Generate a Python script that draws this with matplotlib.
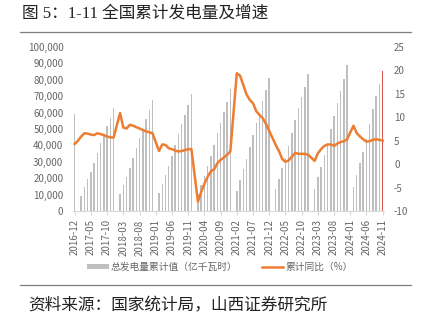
import numpy as np
import pandas as pd
import matplotlib
matplotlib.use("Agg")
import matplotlib.pyplot as plt
from matplotlib.patches import Patch
from matplotlib.lines import Line2D

plt.rcParams['font.family'] = ['Noto Sans CJK SC', 'DejaVu Sans']
plt.rcParams['axes.unicode_minus'] = False

# monthly data, 2016-12 .. 2024-11 (January has no separate release -> None)
months = pd.period_range("2016-12", "2024-11", freq="M").strftime("%Y-%m").tolist()

gen_cum = [  # 总发电量累计值（亿千瓦时）
    59100,
    None, 9300, 14600, 19300, 24000, 29300, 35400, 41500, 46300, 51800, 56900, 62600,
    None, 10400, 15600, 20800, 26300, 32300, 38400, 44500, 49900, 55900, 61600, 67900,
    None, 10900, 16700, 22000, 27500, 33500, 40100, 46800, 52900, 58500, 64400, 71300,
    None, 10200, 15800, 21300, 27300, 33500, 40500, 47400, 53600, 60400, 66600, 74200,
    None, 12400, 18900, 25400, 31700, 38800, 46300, 53500, 60000, 67100, 73800, 80900,
    None, 13200, 19500, 26000, 32500, 39800, 47800, 55500, 62600, 69700, 75800, 83600,
    None, 13300, 20500, 27000, 34000, 41000, 49800, 58100, 65600, 73400, 80500, 88800,
    None, 14400, 21900, 29100, 36200, 43700, 53000, 62200, 70300, 77600, 85400,
]

yoy = [  # 累计同比（%）
    4.3,
    5.0, 5.9, 6.6, 6.5, 6.3, 6.2, 6.6, 6.4, 6.2, 5.9, 5.7, 5.7,
    None, 10.9, 7.8, 7.6, 8.4, 8.2, 7.9, 7.6, 7.3, 7.0, 6.8, 6.6,
    None, 2.8, 4.2, 4.1, 3.4, 3.2, 2.9, 2.7, 2.8, 3.0, 3.2, 3.2,
    None, -8.0, -6.0, -4.2, -2.7, -1.5, -1.1, 0.2, 0.9, 1.4, 2.0, 2.7,
    None, 19.4, 18.9, 16.9, 14.9, 13.7, 13.0, 11.3, 10.5, 9.8, 8.6, 7.1,
    None, 4.1, 2.8, 1.1, 0.5, 0.8, 1.6, 2.4, 2.2, 2.2, 2.2, 2.0,
    None, 0.7, 2.3, 3.2, 3.9, 4.2, 4.2, 3.9, 4.4, 4.7, 4.9, 5.3,
    None, 8.2, 6.6, 5.9, 5.3, 4.8, 4.9, 5.2, 5.3, 5.2, 5.0,
]

x = np.arange(len(months))
gen = np.array([np.nan if v is None else v for v in gen_cum], dtype=float)
g = np.array([np.nan if v is None else v for v in yoy], dtype=float)

GRAY = "#666666"
BAR = "#BFBFBF"
ORANGE = "#ED7D31"
RED = "#D9534F"

fig = plt.figure(figsize=(4.23, 3.28), dpi=100)

fig.text(22 / 423, 1 - 14 / 328, "图 5：1-11 全国累计发电量及增速", fontsize=12,
         family=['Liberation Serif', 'Noto Sans CJK SC'], va="center", ha="left", color="#222222")
fig.add_artist(Line2D([20 / 423, 411 / 423], [1 - 32 / 328, 1 - 32 / 328],
                      color="#7F7F7F", lw=0.9))
fig.add_artist(Line2D([20 / 423, 411 / 423], [1 - 285 / 328, 1 - 285 / 328],
                      color="#7F7F7F", lw=0.9))
fig.text(28 / 423, 1 - 306 / 328, "资料来源：国家统计局，山西证券研究所", fontsize=12,
         va="center", ha="left", color="#222222")

ax = fig.add_axes([73.1 / 423, 117 / 328, 311.2 / 423, 164 / 328])
ok = ~np.isnan(gen)
colors = [RED if i == len(x) - 1 else BAR for i in x[ok]]
ax.bar(x[ok], gen[ok], width=0.45, color=colors, zorder=2)
ax.set_xlim(-0.5, len(x) - 0.5)
ax.set_ylim(0, 100000)
ax.set_yticks(np.arange(0, 100001, 10000))
ax.set_yticklabels([f"{v:,}" for v in range(0, 100001, 10000)])
ax.set_xticks(x[::5])
ax.set_xticklabels(months[::5], rotation=90)
ax.tick_params(axis="y", length=0, pad=7, labelsize=7, labelcolor=GRAY)
ax.tick_params(axis="x", length=3, color="#D9D9D9", pad=3, labelsize=7, labelcolor=GRAY)
for s in ["top", "left", "right"]:
    ax.spines[s].set_visible(False)
ax.spines["bottom"].set_color("#D9D9D9")

ax2 = ax.twinx()
okl = ~np.isnan(g)
ax2.plot(x[okl], g[okl], color=ORANGE, lw=1.8, zorder=3)
ax2.set_ylim(-10, 25)
ax2.set_yticks(np.arange(-10, 26, 5))
ax2.tick_params(axis="y", length=0, pad=7, labelsize=7, labelcolor=GRAY)
for s in ax2.spines.values():
    s.set_visible(False)

handles = [Patch(facecolor=BAR, edgecolor="none"),
           Line2D([], [], color=ORANGE, lw=1.8)]
fig.legend(handles, ["总发电量累计值（亿千瓦时）", "累计同比（%）"],
           loc="center", bbox_to_anchor=(0.52, 1 - 267 / 328), ncol=2,
           frameon=False, fontsize=7, labelcolor=GRAY, handlelength=2.2,
           handleheight=0.5, columnspacing=2.5, handletextpad=0.2)

fig.savefig("out.png", dpi=100)
